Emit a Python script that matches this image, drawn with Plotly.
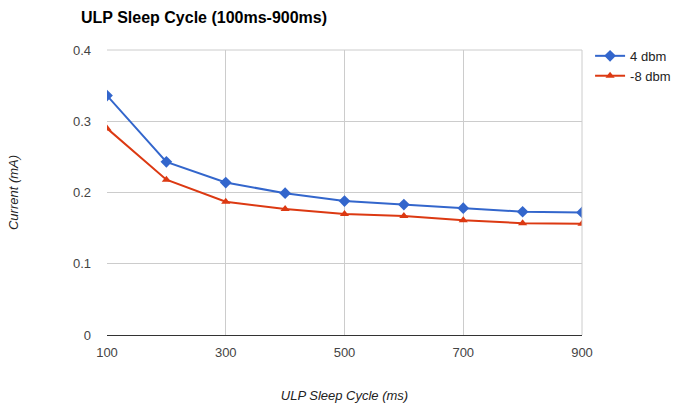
import plotly.graph_objects as go

x_ms = [100, 200, 300, 400, 500, 600, 700, 800, 900]
dbm4 = [0.336, 0.243, 0.214, 0.199, 0.188, 0.183, 0.178, 0.173, 0.172]
dbm_neg8 = [0.290, 0.218, 0.187, 0.177, 0.170, 0.167, 0.161, 0.157, 0.156]
x_ticks = [100, 300, 500, 700, 900]
y_ticks = [0, 0.1, 0.2, 0.3, 0.4]
y_tick_text = ["0", "0.1", "0.2", "0.3", "0.4"]

fig = go.Figure()
fig.add_trace(go.Scatter(x=x_ms, y=dbm4, mode="lines+markers", name="4 dbm",
                         line=dict(color="#3366cc", width=2),
                         marker=dict(symbol="diamond", size=9, color="#3366cc")))
fig.add_trace(go.Scatter(x=x_ms, y=dbm_neg8, mode="lines+markers", name="-8 dbm",
                         line=dict(color="#dc3912", width=2),
                         marker=dict(symbol="triangle-up", size=8, color="#dc3912")))

fig.update_layout(
    width=683, height=407,
    margin=dict(l=107, r=101, t=50, b=72, autoexpand=False),
    paper_bgcolor="white", plot_bgcolor="white",
    font=dict(family="Liberation Sans, Arial", size=13, color="#444"),
    title=dict(text="<b>ULP Sleep Cycle (100ms-900ms)</b>", x=81/683, xanchor="left",
               y=1 - 17/407, yanchor="middle",
               font=dict(size=16, color="black")),
    xaxis=dict(range=[100, 900], tickvals=x_ticks, showgrid=True, gridcolor="#cccccc",
               zeroline=False, showline=True, linecolor="#333333", linewidth=1,
               ticks="", ticklabelstandoff=5, tickfont=dict(size=13, color="#444"),
               title=dict(text="<i>ULP Sleep Cycle (ms)</i>", standoff=32,
                          font=dict(size=13, color="#222"))),
    yaxis=dict(range=[0, 0.4], tickvals=y_ticks, ticktext=y_tick_text, showgrid=True,
               gridcolor="#cccccc", zeroline=False, showline=False,
               ticks="", ticklabelstandoff=15, tickfont=dict(size=13, color="#444"),
               title=dict(text="<i>Current (mA)</i>", standoff=51,
                          font=dict(size=13, color="#222"))),
    legend=dict(x=1.017, y=1.032, xanchor="left", yanchor="top",
                font=dict(size=13, color="#222"), bgcolor="rgba(0,0,0,0)"),
    showlegend=True,
)
fig.add_shape(type="line", xref="paper", yref="paper", x0=1, x1=1, y0=0, y1=1,
              line=dict(color="#cccccc", width=1))
fig.add_shape(type="line", xref="paper", yref="paper", x0=0, x1=1, y0=1, y1=1,
              line=dict(color="#cccccc", width=1))

fig.write_html("out.html")
